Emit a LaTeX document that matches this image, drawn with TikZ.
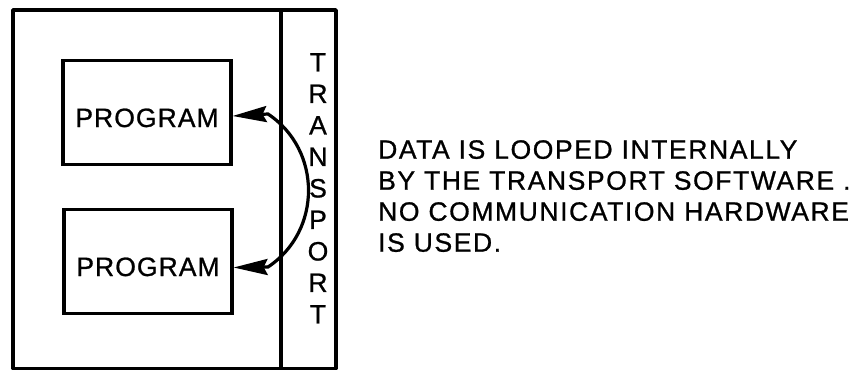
\documentclass[tikz,border=0pt]{standalone}
\usepackage{fontspec}
\setmainfont{Liberation Sans}
\usetikzlibrary{arrows.meta,calc}

% slightly heavier strokes for all lettering
\newcommand{\heavytype}[2]{\addfontfeature{FakeBold=0.9,LetterSpace=#2}\fontsize{26.5}{#1}\selectfont}

\tikzset{
  frame/.style={line width=3.4pt, line join=round},
  progbox/.style={draw, line width=3.2pt, minimum width=168pt, minimum height=104pt,
    inner sep=0pt, text height=29pt, text depth=0pt,
    font={\heavytype{30}{4}}},
  loop/.style={line width=3.2pt, {Stealth[length=34pt,width=16pt,inset=4pt]}-{Stealth[length=34pt,width=16pt,inset=4pt]}},
  column/.style={inner sep=0pt, align=center, font={\heavytype{31.5}{0}}},
  note/.style={inner sep=0pt, align=left, font={\heavytype{31}{6}}}
}

\begin{document}
\begin{tikzpicture}[x=1pt, y=-1pt]
  \useasboundingbox (0,0) rectangle (855,370);

  % host machine with its transport column
  \draw[frame] (13,10) rectangle (336,368.5);
  \draw[frame] (281,10) -- (281,368.5);

  % the two programs
  \node[progbox] (p1) at (147,112.5) {PROGRAM};
  \node[progbox] (p2) at (148,261.5) {PROGRAM};

  % transport label, stacked letter by letter
  \node[column, anchor=north] (transport) at (318,53) {T\\R\\A\\N\\S\\P\\O\\R\\T};

  % internal loop-back between the programs
  \coordinate (q1) at (268,114);
  \coordinate (q2) at (268,267);
  \draw[loop] ($(p1.east)+(0,3.5)$) -- (q1)
    .. controls (322,150) and (322,231) .. (q2) -- ($(p2.east)+(0,6)$);

  % explanatory note
  \node[note, anchor=north west] (note) at (378,140)
    {DATA IS LOOPED INTERNALLY\\BY THE TRANSPORT SOFTWARE .\\NO COMMUNICATION HARDWARE\\IS USED.};
\end{tikzpicture}
\end{document}
